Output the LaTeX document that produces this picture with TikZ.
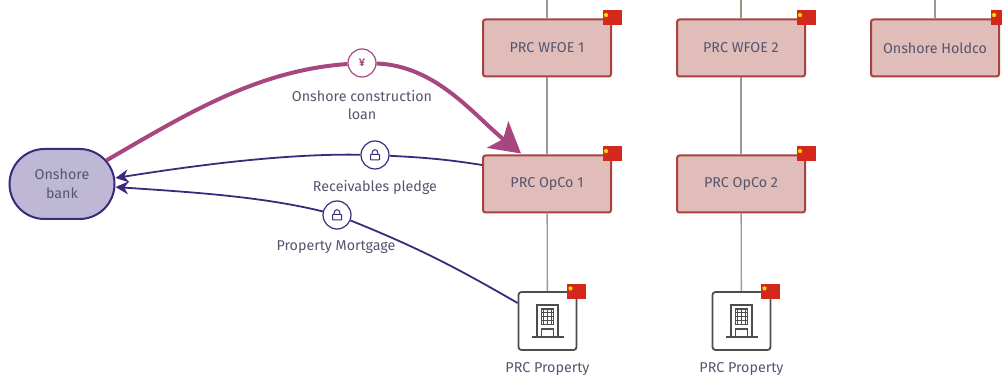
\documentclass[tikz,border=0pt]{standalone}
\usepackage{fontspec}
\setmainfont{Fira Sans}
\usetikzlibrary{calc}
\usetikzlibrary{positioning}
\usetikzlibrary{shapes.misc}
\usetikzlibrary{shapes.geometric}
\usetikzlibrary{arrows.meta}
\definecolor{inktext}{HTML}{55556F}
\definecolor{boxfill}{HTML}{E0BDB9}
\definecolor{boxline}{HTML}{A8423F}
\definecolor{bankfill}{HTML}{BEB8D6}
\definecolor{bankline}{HTML}{3B2A7C}
\definecolor{loanline}{HTML}{A8477F}
\definecolor{flagred}{HTML}{D5281C}
\definecolor{iconline}{HTML}{4D4D4D}
\definecolor{spinegrey}{HTML}{9A9A9A}
\definecolor{spineolive}{HTML}{8E9A80}
\tikzset{
 entity/.style={draw=boxline,fill=boxfill,line width=2pt,rounded corners=2.5pt,
   minimum width=128pt,minimum height=57pt,text=inktext,font=\fontsize{14.3}{17}\selectfont},
 asset/.style={draw=iconline,fill=white,line width=1.8pt,rounded corners=3pt,minimum size=58pt},
 flag/.style={fill=flagred,minimum width=19pt,minimum height=15pt,inner sep=0pt},
 flagstar/.style={star,star points=5,fill=yellow!80!orange,inner sep=0pt,minimum size=5pt},
 label/.style={text=inktext,align=center,font=\fontsize{14.3}{18}\selectfont},
 badge/.style={circle,fill=white,line width=1.2pt,minimum size=28pt,inner sep=0pt},
 spine/.style={draw=spinegrey,line width=1.3pt},
 pledge/.style={draw=bankline,line width=1.8pt},
}
\begin{document}
\begin{tikzpicture}[x=1pt,y=-1pt]
 \useasboundingbox (0,0) rectangle (1002,379);

 \foreach \n/\x/\y/\t in {wfoeA/547/48/PRC WFOE 1,wfoeB/741/48/PRC WFOE 2,holdco/935/48/Onshore Holdco,
                          opcoA/547/184/PRC OpCo 1,opcoB/741/184/PRC OpCo 2} {
   \node[entity] (\n) at (\x,\y) {\t};
   \node[flag] (flag\n) at (\x+65,\y-30) {};
   \node[flagstar] (star\n) at (\x+59,\y-33) {};
 }
 \foreach \n/\x in {propA/547.5,propB/741.5} {
   \node[asset] (\n) at (\x,321) {};
   \node[flag] (flag\n) at (\x+29,291.5) {};
   \node[flagstar] (star\n) at (\x+23,288.5) {};
   \node[label,below=8pt of \n] (label\n) {PRC Property};
   \begin{scope}[shift={(\x,321)},iconline]
    \draw[line width=1.1pt] (-10.5,16) -- (-10.5,-16) -- (10.5,-16) -- (10.5,16);
    \draw[line width=1.3pt] (-16,16) -- (16,16);
    \draw[line width=1.1pt] (-6,16) -- (-6,8) -- (6,8) -- (6,16);
    \draw[line width=1pt] (-6,-12) grid[step=4pt] (6,4);
    \draw[line width=1pt] (-6,-12) rectangle (6,4);
   \end{scope}
 }

 \coordinate (topA) at (547,0);
 \coordinate (topB) at (741,0);
 \coordinate (topC) at (935,0);
 \draw[spine] (topA) -- (wfoeA);
 \draw[spine] (wfoeA) -- (opcoA);
 \draw[spine] (opcoA) -- (propA);
 \draw[spine,draw=spineolive] (topB) -- (wfoeB);
 \draw[spine] (wfoeB) -- (opcoB);
 \draw[spine] (opcoB) -- (propB);
 \draw[spine] (topC) -- (holdco);

 \node[rounded rectangle,draw=bankline,fill=bankfill,line width=2pt,minimum width=105pt,minimum height=70pt,
   inner sep=0pt,align=center,text=inktext,font=\fontsize{14.3}{19}\selectfont] (bank) at (62,184) {Onshore\\bank};

 \node[badge,draw=loanline,text=loanline,font=\fontsize{11}{11}\selectfont\bfseries] (yen) at (362,63) {¥};
 \node[badge,draw=bankline] (lockA) at (375,155) {};
 \node[badge,draw=bankline] (lockB) at (337,215) {};
 \foreach \n in {lockA,lockB} {
   \draw[bankline,line width=1pt,rounded corners=.6pt] ($(\n)+(-4.5,-.5)$) rectangle ($(\n)+(4.5,5)$);
   \draw[bankline,line width=1pt] ($(\n)+(-2.8,-.5)$) -- ++(0,-2) arc[start angle=180,end angle=360,radius=2.8] -- ++(0,2);
 }

 \draw[draw=loanline,line width=4pt] (bank.28) to[out=30,in=184,looseness=.9] (yen);
 \draw[draw=loanline,line width=4pt,-{Stealth[length=30pt,width=34pt,inset=7pt]}] (yen) to[out=-2,in=141,looseness=.9] ($(opcoA.north)+(-26,-1)$);
 \draw[pledge] (opcoA.west |- 0,165) to[out=171,in=-3] (lockA);
 \draw[pledge,-{Stealth[length=13pt,width=13pt]}] (lockA) to[out=179,in=9,looseness=.8] (bank.east |- 0,178);
 \draw[pledge] (propA.west |- 0,303) to[out=150,in=-22] (lockB);
 \draw[pledge,-{Stealth[length=13pt,width=13pt]}] (lockB) to[out=166,in=-4,looseness=.8] (bank.east |- 0,187);

 \node[label] (labelyen) at (362,105) {Onshore construction\\loan};
 \node[label] (labelA) at (375,187) {Receivables pledge};
 \node[label] (labelB) at (336,247) {Property Mortgage};
\end{tikzpicture}
\end{document}
